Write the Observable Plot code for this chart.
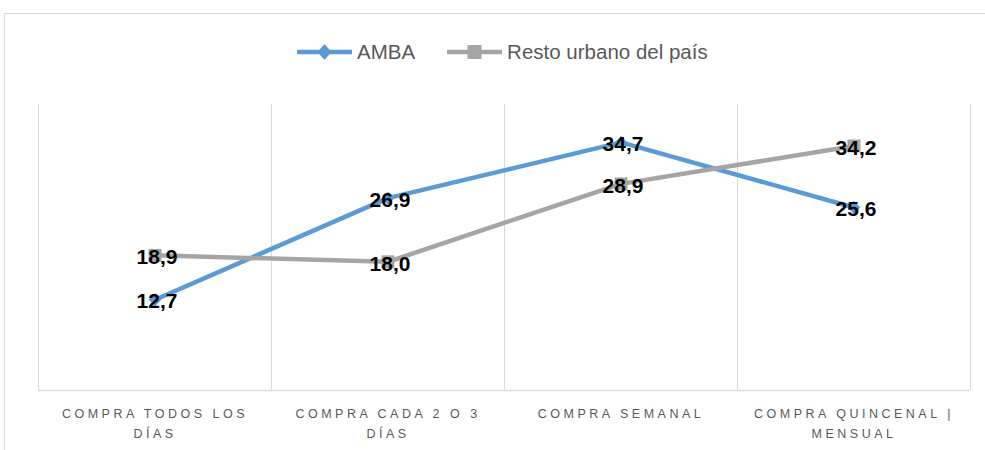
<!DOCTYPE html>
<html>
<head>
<meta charset="utf-8">
<script src="https://cdn.jsdelivr.net/npm/d3@7"></script>
<script src="https://cdn.jsdelivr.net/npm/@observablehq/plot@0.6"></script>
<style>
  html, body { margin: 0; padding: 0; background: #fff; overflow: hidden; }
  body { width: 985px; height: 450px; position: relative; font-family: "Liberation Sans", Arial, sans-serif; }
  #frame { position: absolute; left: 4px; top: 13px; width: 1200px; height: 800px; border: 1px solid #d9d9d9; box-sizing: border-box; }
  #legend { position: absolute; left: 297px; top: 38px; height: 28px; display: flex; align-items: center; font-size: 20.5px; color: #595959; }
  #legend .item { display: flex; align-items: center; margin-right: 32px; }
  #legend svg { display: block; margin-right: 5px; }
  #chart { position: absolute; left: 0; top: 80px; }
  #chart g[aria-label="x-axis tick label"] text { letter-spacing: 3.5px; }
</style>
</head>
<body>
<div id="frame"></div>
<div id="legend"></div>
<div id="chart"></div>
<script>
const categories = ["Compra todos los días", "Compra cada 2 o 3 días", "Compra semanal", "Compra quincenal | mensual"];
const tickLabels = ["COMPRA TODOS LOS\nDÍAS", "COMPRA CADA 2 O 3\nDÍAS", "COMPRA SEMANAL", "COMPRA QUINCENAL |\nMENSUAL"];
const seriesNames = ["AMBA", "Resto urbano del país"];
const ambaValues = [12.7, 26.9, 34.7, 25.6];
const restoValues = [18.9, 18.0, 28.9, 34.2];
const seriesColors = ["#5B9BD5", "#A5A5A5"];
const seriesSymbols = ["diamond2", "square"];
const yDomain = [0, 40];

const rows = [];
categories.forEach((c, i) => {
  rows.push({series: seriesNames[0], i, cat: c, value: ambaValues[i]});
  rows.push({series: seriesNames[1], i, cat: c, value: restoValues[i]});
});
const amba = rows.filter(d => d.series === seriesNames[0]);
const resto = rows.filter(d => d.series === seriesNames[1]);
const fmt = v => v.toFixed(1).replace(".", ",");
const gridPos = d3.range(categories.length + 1).map(k => k - 0.5);

const chart = Plot.plot({
  width: 985,
  height: 370,
  marginLeft: 38,
  marginRight: 15,
  marginTop: 24,
  marginBottom: 60,
  style: {fontFamily: "Liberation Sans, Arial, sans-serif", background: "transparent"},
  x: {type: "linear", domain: [-0.5, categories.length - 0.5]},
  y: {domain: yDomain, axis: null},
  marks: [
    Plot.ruleX(gridPos, {x: d => d, y1: yDomain[0], y2: yDomain[1], stroke: "#d9d9d9", strokeWidth: 1}),
    Plot.ruleY([0], {x1: -0.5, x2: categories.length - 0.5, stroke: "#d9d9d9", strokeWidth: 1.5}),
    Plot.axisX({
      ticks: d3.range(categories.length),
      tickFormat: k => tickLabels[k],
      tickSize: 0,
      tickPadding: 13,
      fontSize: 12.5,
      lineHeight: 1.62,
      fill: "#595959",
      label: null
    }),
    Plot.line(amba, {x: "i", y: "value", stroke: seriesColors[0], strokeWidth: 4.5, strokeLinejoin: "round"}),
    Plot.dot(amba, {x: "i", y: "value", symbol: seriesSymbols[0], r: 5.8, fill: seriesColors[0], stroke: "none"}),
    Plot.line(resto, {x: "i", y: "value", stroke: seriesColors[1], strokeWidth: 4.5, strokeLinejoin: "round"}),
    Plot.dot(resto, {x: "i", y: "value", symbol: seriesSymbols[1], r: 7.3, fill: seriesColors[1], stroke: "none"}),
    Plot.text(amba, {x: "i", y: "value", text: d => fmt(d.value), dx: 2, dy: 2, fontSize: 21, fontWeight: "bold", fill: "#000"}),
    Plot.text(resto, {x: "i", y: "value", text: d => fmt(d.value), dx: 2, dy: 2, fontSize: 21, fontWeight: "bold", fill: "#000"})
  ]
});
document.getElementById("chart").appendChild(chart);

// Legend
const legend = d3.select("#legend");
seriesNames.forEach((name, k) => {
  const item = legend.append("div").attr("class", "item");
  const sw = item.append("svg").attr("width", 55).attr("height", 20);
  sw.append("line").attr("x1", 0).attr("x2", 55).attr("y1", 10).attr("y2", 10)
    .attr("stroke", seriesColors[k]).attr("stroke-width", 4.5);
  if (seriesSymbols[k] === "square") {
    sw.append("rect").attr("x", 27.5 - 7).attr("y", 3).attr("width", 14).attr("height", 14).attr("fill", seriesColors[k]);
  } else {
    sw.append("path").attr("d", "M27.5,2 L34.5,10 L27.5,18 L20.5,10 Z").attr("fill", seriesColors[k]);
  }
  item.append("span").text(name);
});
</script>
</body>
</html>
